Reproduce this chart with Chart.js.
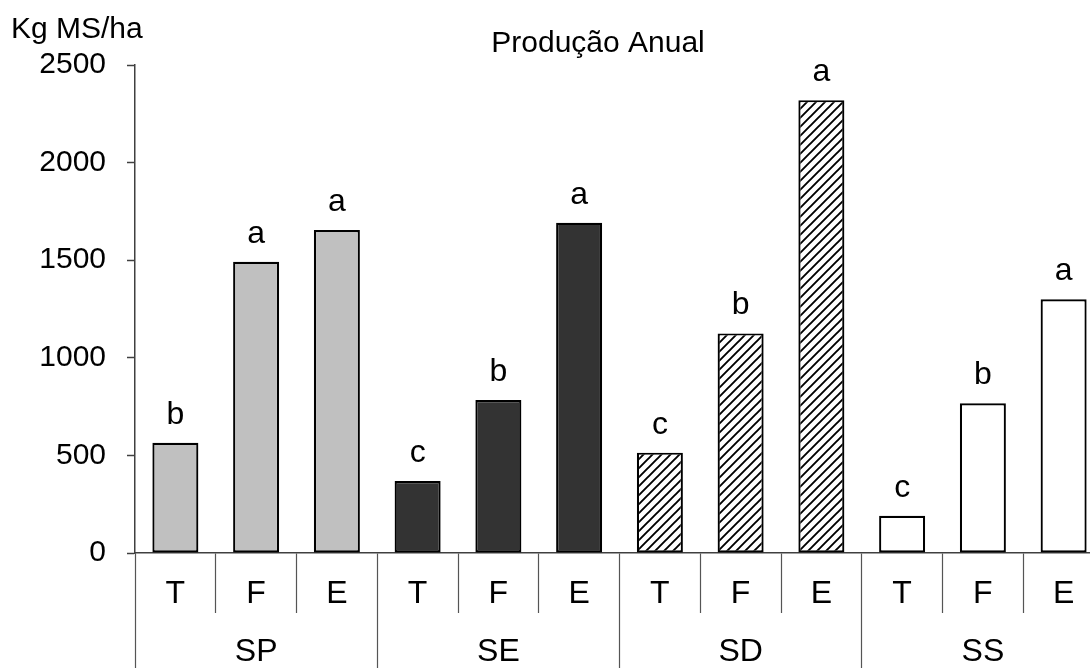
<!DOCTYPE html>
<html>
<head>
<meta charset="utf-8">
<script src="https://cdn.jsdelivr.net/npm/chart.js@4"></script>
<style>
  html, body { margin: 0; padding: 0; overflow: hidden; background: #fff; }
</style>
</head>
<body>
<canvas id="myChart" width="1104" height="668"></canvas>
<script>
// data
const groups = ['SP', 'SE', 'SD', 'SS'];
const treatments = ['T', 'F', 'E'];
const production = [565, 1492, 1655, 369, 784, 1692, 514, 1125, 2320, 191, 767, 1300];
const letters = ['b', 'a', 'a', 'c', 'b', 'a', 'c', 'b', 'a', 'c', 'b', 'a'];
const yTicks = [0, 500, 1000, 1500, 2000, 2500];

const labels = groups.flatMap(() => treatments);
const FONT = '"Liberation Sans", Arial, sans-serif';

// hatch fill for SD
function hatch() {
  const c = document.createElement('canvas');
  c.width = 9; c.height = 9;
  const g = c.getContext('2d');
  g.fillStyle = '#fff';
  g.fillRect(0, 0, 9, 9);
  g.strokeStyle = '#000';
  g.lineWidth = 1.9;
  g.beginPath();
  g.moveTo(-1, 10); g.lineTo(10, -1);
  g.moveTo(-1, 1); g.lineTo(1, -1);
  g.moveTo(8, 10); g.lineTo(10, 8);
  g.stroke();
  return document.getElementById('myChart').getContext('2d').createPattern(c, 'repeat');
}
const groupFills = ['#c0c0c0', '#333333', hatch(), '#ffffff'];
const fills = groups.flatMap((g, i) => treatments.map(() => groupFills[i]));

// letters above bars + titles
const chartText = {
  id: 'chartText',
  afterDatasetsDraw(chart) {
    const { ctx } = chart;
    const bars = chart.getDatasetMeta(0).data;
    ctx.save();
    ctx.fillStyle = '#000';
    ctx.textBaseline = 'alphabetic';
    ctx.textAlign = 'center';
    ctx.font = '32px ' + FONT;
    bars.forEach((bar, i) => ctx.fillText(letters[i], bar.x, bar.y - 19));
    ctx.font = '30px ' + FONT;
    ctx.fillText('Produção Anual', 598, 52);
    ctx.textAlign = 'left';
    ctx.fillText('Kg MS/ha', 11, 38);
    ctx.restore();
  }
};

const config = {
  type: 'bar',
  data: {
    labels,
    datasets: [{
      data: production,
      backgroundColor: fills,
      borderColor: '#000',
      borderWidth: 2.2,
      borderSkipped: false,
      barPercentage: 0.57,
      categoryPercentage: 1,
      xAxisID: 'x'
    }]
  },
  options: {
    responsive: false,
    animation: false,
    layout: { padding: { top: 65, left: 0, right: 0, bottom: 0 } },
    plugins: {
      legend: { display: false },
      tooltip: { enabled: false }
    },
    scales: {
      y: {
        min: 0,
        max: 2500,
        afterBuildTicks: s => { s.ticks = yTicks.map(v => ({ value: v })); },
        afterFit: s => { s.width = 135; },
        border: { display: true, color: '#404040', width: 1.5 },
        grid: { drawOnChartArea: false, tickLength: 8, tickColor: '#404040', tickWidth: 1.5 },
        ticks: { color: '#000', padding: 21, callback: v => String(v), font: { size: 30, family: FONT } }
      },
      x: {
        position: 'bottom',
        offset: true,
        afterFit: s => { s.height = 60; },
        border: { display: true, color: '#404040', width: 1.5 },
        grid: { offset: true, drawOnChartArea: false, tickLength: 60, tickColor: '#555', tickWidth: 1.2 },
        ticks: { color: '#000', padding: -38, autoSkip: false, maxRotation: 0, font: { size: 32, family: FONT } }
      },
      x2: {
        type: 'category',
        position: 'bottom',
        labels: groups,
        offset: true,
        afterFit: s => { s.height = 55; },
        border: { display: false },
        grid: { offset: true, drawOnChartArea: false, tickLength: 55, tickColor: '#555', tickWidth: 1.2 },
        ticks: { color: '#000', padding: -35, autoSkip: false, maxRotation: 0, font: { size: 32, family: FONT } }
      }
    }
  },
  plugins: [chartText]
};

const myChart = new Chart(document.getElementById('myChart'), config);
</script>
</body>
</html>
